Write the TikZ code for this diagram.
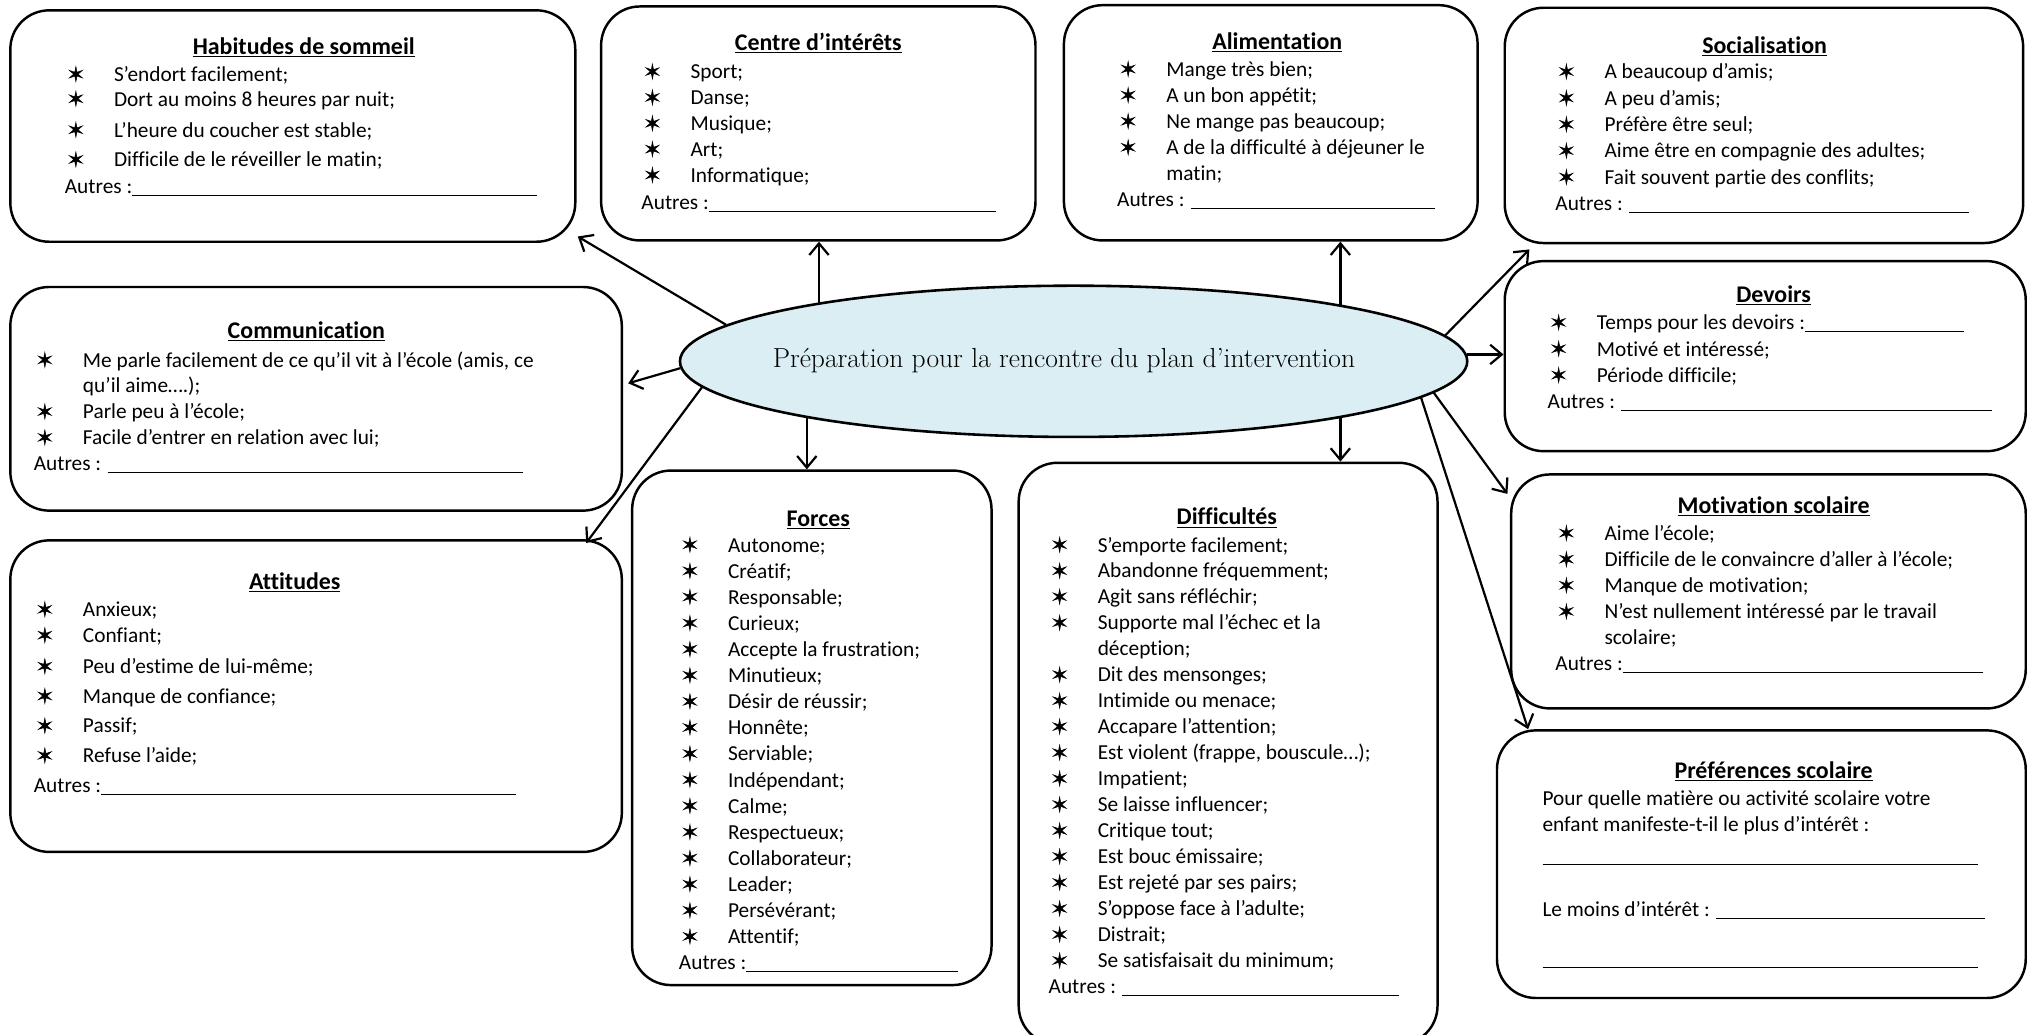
\documentclass[tikz,border=0pt]{standalone}
\usepackage{fontspec}
\newfontfamily\calib[Ligatures=NoCommon]{Carlito}
\newfontfamily\symfont[FakeBold=2.5]{DejaVu Sans}
\usetikzlibrary{arrows.meta, shapes.geometric}

\definecolor{ovalblue}{HTML}{DAEEF3}

\newcommand\bul{{\symfont\fontsize{15.5}{15.5}\selectfont ✶}}
\newcommand\itm[1]{\hspace*{2pt}\makebox[36pt][l]{\bul}#1}
\newcommand\cont[1]{\hspace*{38pt}#1}
\newcommand\blank[1]{\rule[-1.8pt]{#1pt}{0.8pt}}

\tikzset{
  box/.style={draw, line width=1.9pt, rounded corners=30pt, inner sep=0pt},
  ttl/.style={font=\calib\fontsize{18.5}{21}\selectfont\bfseries, anchor=base, inner sep=0pt},
  line/.style={font=\calib\fontsize{16.5}{20}\selectfont, anchor=base west, inner sep=0pt},
  link/.style={line width=1.7pt, -{Straight Barb[length=9pt,width=15pt]}},
}

\begin{document}
\begin{tikzpicture}[x=1pt, y=-1pt]
  \useasboundingbox (0,0) rectangle (1568,800);

  % centre
  \node[draw, ellipse, line width=2pt, fill=ovalblue, minimum width=609pt,
        minimum height=117pt, inner sep=0pt] (ell) at (830.5,279.5) {};
  \node[font=\fontsize{21.3}{24}\selectfont\addfontfeature{FakeBold=3}] (ell-t) at (823,279)
    {Préparation pour la rencontre du plan d’intervention};

  % boites
  \node[box, minimum width=437pt, minimum height=179pt] (habit) at (226.5,97.5) {};
  \node[box, minimum width=336pt, minimum height=181pt] (centre) at (633,95.5) {};
  \node[box, minimum width=320pt, minimum height=182pt] (alim) at (983,95) {};
  \node[box, minimum width=401pt, minimum height=182pt] (social) at (1364.5,97) {};
  \node[box, minimum width=403pt, minimum height=147pt] (devoirs) at (1365.5,275.5) {};
  \node[box, minimum width=398pt, minimum height=181pt] (motiv) at (1368,457.5) {};
  \node[box, minimum width=409pt, minimum height=207pt] (pref) at (1362.5,668.5) {};
  \node[box, minimum width=473pt, minimum height=173pt] (comm) at (244.5,308.5) {};
  \node[box, minimum width=473pt, minimum height=241pt] (attit) at (244.5,538.5) {};
  \node[box, minimum width=278pt, minimum height=398pt] (forces) at (628,563) {};
  \node[box, minimum width=324pt, minimum height=450pt] (diffic) at (950,583) {};

  % Habitudes de sommeil
  \node[ttl] (habit-t) at (235,42) {\underline{Habitudes de sommeil}};
  \foreach \y/\t [count=\i] in {63/S’endort facilement;, 82/Dort au moins 8 heures par nuit;,
      106/L’heure du coucher est stable;, 129/Difficile de le réveiller le matin;}
    \node[line] (habit-\i) at (50,\y) {\itm{\t}};
  \node[line] (habit-a) at (50,150) {Autres :\blank{313}};

  % Centre d'interets
  \node[ttl] (centre-t) at (633,39) {\underline{Centre d’intérêts}};
  \foreach \t [count=\i] in {Sport;, Danse;, Musique;, Art;, Informatique;}
    \node[line] (centre-\i) at (496,{61+20*(\i-1)}) {\itm{\t}};
  \node[line] (centre-a) at (496,162) {Autres :\blank{222}};

  % Alimentation
  \node[ttl] (alim-t) at (988,38) {\underline{Alimentation}};
  \foreach \t [count=\i] in {\itm{Mange très bien;}, \itm{A un bon appétit;}, \itm{Ne mange pas beaucoup;},
      \itm{A de la difficulté à déjeuner le}, \cont{matin;}, Autres : \blank{189}}
    \node[line] (alim-\i) at (864,{59+20.2*(\i-1)}) {\t};

  % Socialisation
  \node[ttl] (social-t) at (1365,41) {\underline{Socialisation}};
  \foreach \t [count=\i] in {\itm{A beaucoup d’amis;}, \itm{A peu d’amis;}, \itm{Préfère être seul;},
      \itm{Aime être en compagnie des adultes;}, \itm{Fait souvent partie des conflits;}, Autres : \blank{263}}
    \node[line] (social-\i) at (1203,{61+20.4*(\i-1)}) {\t};

  % Devoirs
  \node[ttl] (devoirs-t) at (1372,234) {\underline{Devoirs}};
  \foreach \t [count=\i] in {\itm{Temps pour les devoirs :\blank{123}}, \itm{Motivé et intéressé;},
      \itm{Période difficile;}, Autres : \blank{287}}
    \node[line] (devoirs-\i) at (1197,{255+20.4*(\i-1)}) {\t};

  % Motivation scolaire
  \node[ttl] (motiv-t) at (1372,397) {\underline{Motivation scolaire}};
  \foreach \t [count=\i] in {\itm{Aime l’école;}, \itm{Difficile de le convaincre d’aller à l’école;},
      \itm{Manque de motivation;}, \itm{N’est nullement intéressé par le travail}, \cont{scolaire;},
      Autres :\blank{279}}
    \node[line] (motiv-\i) at (1203,{418+20.2*(\i-1)}) {\t};

  % Preferences scolaire
  \node[ttl] (pref-t) at (1372,602) {\underline{Préférences scolaire}};
  \node[line] (pref-1) at (1193,623) {Pour quelle matière ou activité scolaire votre};
  \node[line] (pref-2) at (1193,643) {enfant manifeste-t-il le plus d’intérêt :};
  \node[line] (pref-3) at (1193,667) {\blank{337}};
  \node[line] (pref-4) at (1193,709) {Le moins d’intérêt : \blank{208}};
  \node[line] (pref-5) at (1193,747) {\blank{337}};

  % Communication
  \node[ttl] (comm-t) at (237,262) {\underline{Communication}};
  \foreach \t [count=\i] in {\itm{Me parle facilement de ce qu’il vit à l’école (amis, ce},
      \cont{qu’il aime….);}, \itm{Parle peu à l’école;}, \itm{Facile d’entrer en relation avec lui;},
      Autres : \blank{321}}
    \node[line] (comm-\i) at (26,{284+20*(\i-1)}) {\t};

  % Attitudes
  \node[ttl] (attit-t) at (228,456) {\underline{Attitudes}};
  \foreach \y/\t [count=\i] in {477/Anxieux;, 497/Confiant;, 521/Peu d’estime de lui-même;,
      544/Manque de confiance;, 567/Passif;, 590/Refuse l’aide;}
    \node[line] (attit-\i) at (26,\y) {\itm{\t}};
  \node[line] (attit-a) at (26,613) {Autres :\blank{321}};

  % Forces
  \node[ttl] (forces-t) at (633,407) {\underline{Forces}};
  \foreach \t [count=\i] in {Autonome;, Créatif;, Responsable;, Curieux;, Accepte la frustration;,
      Minutieux;, Désir de réussir;, Honnête;, Serviable;, Indépendant;, Calme;, Respectueux;,
      Collaborateur;, Leader;, Persévérant;, Attentif;}
    \node[line] (forces-\i) at (525,{427+20.2*(\i-1)}) {\itm{\t}};
  \node[line] (forces-a) at (525,750) {Autres :\blank{164}};

  % Difficultes
  \node[ttl] (diffic-t) at (949,406) {\underline{Difficultés}};
  \foreach \t [count=\i] in {\itm{S’emporte facilement;}, \itm{Abandonne fréquemment;},
      \itm{Agit sans réfléchir;}, \itm{Supporte mal l’échec et la}, \cont{déception;},
      \itm{Dit des mensonges;}, \itm{Intimide ou menace;}, \itm{Accapare l’attention;},
      \itm{Est violent (frappe, bouscule…);}, \itm{Impatient;}, \itm{Se laisse influencer;},
      \itm{Critique tout;}, \itm{Est bouc émissaire;}, \itm{Est rejeté par ses pairs;},
      \itm{S’oppose face à l’adulte;}, \itm{Distrait;}, \itm{Se satisfaisait du minimum;},
      Autres : \blank{214}}
    \node[line] (diffic-\i) at (811,{427+20.1*(\i-1)}) {\t};

  % fleches
  \draw[link] (ell.174.3) -- ([shift={(1,-5)}]habit.south east);
  \draw[link] (ell.167.5) -- (ell.167.5 |- centre.south);
  \draw[link] (ell.12.6) -- (ell.12.6 |- alim.south);
  \draw[link] (ell.4.7) -- ([shift={(20,4)}]social.south west);
  \draw[link] (ell.1) -- (ell.1 -| devoirs.west);
  \draw[link] (ell.-5.2) -- ([shift={(-2,16)}]motiv.north west);
  \draw[link] (ell.-6.1) -- ([shift={(25,0)}]pref.north west);
  \draw[link] (ell.192.5) -- (ell.192.5 |- forces.north);
  \draw[link] (ell.-12.7) -- (ell.-12.7 |- diffic.north);
  \draw[link] (ell.181.9) -- ([shift={(4,-12)}]comm.east);
  \draw[link] (ell.184.9) -- ([shift={(-28.5,3)}]attit.north east);
\end{tikzpicture}
\end{document}
